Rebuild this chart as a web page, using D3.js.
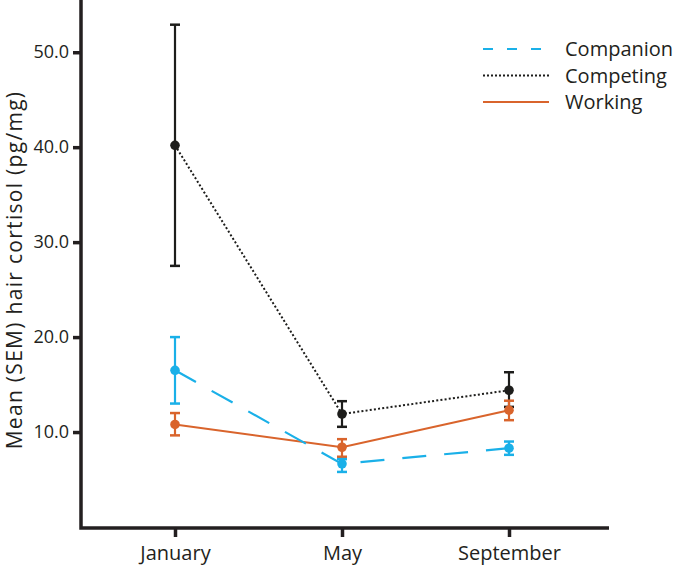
<!DOCTYPE html>
<html><head><meta charset="utf-8">
<script src="https://cdn.jsdelivr.net/npm/d3@7"></script>
<style>body{margin:0;background:#fff}svg{display:block}text{font-family:"Open Sans",sans-serif;fill:#231f20}</style>
</head><body><svg id="c" width="675" height="567"></svg>
<script>
const months = ["January", "May", "September"];
const yTicks = [10, 20, 30, 40, 50];
const companionMean = [16.5, 6.65, 8.3];
const companionLow = [13.0, 5.8, 7.6];
const companionHigh = [20.0, 7.15, 9.0];
const competingMean = [40.2, 11.9, 14.4];
const competingLow = [27.5, 10.55, 12.65];
const competingHigh = [52.9, 13.25, 16.3];
const workingMean = [10.8, 8.4, 12.3];
const workingLow = [9.65, 7.4, 11.25];
const workingHigh = [12.0, 9.25, 13.3];
const seriesNames = ["Companion", "Competing", "Working"];

const series = [
  {name: seriesNames[1], mean: competingMean, low: competingLow, high: competingHigh, color: "#1d1d1b", dash: "2,2.2", legDash: "2,2", width: 2},
  {name: seriesNames[2], mean: workingMean, low: workingLow, high: workingHigh, color: "#d9642c", dash: null, legDash: null, width: 2},
  {name: seriesNames[0], mean: companionMean, low: companionLow, high: companionHigh, color: "#1ab0e8", dash: "24,18", legDash: "10,14", width: 2.2}
];

const svg = d3.select("#c");
const x = d3.scalePoint().domain(months).range([175, 509]);
const y = d3.scaleLinear().domain([0, 55.5]).range([527, 0]);

// axes
const yAxis = svg.append("g").attr("transform", "translate(81,0)")
  .call(d3.axisLeft(y).tickValues(yTicks).tickFormat(d3.format(".1f")).tickSizeOuter(0).tickSize(8).tickPadding(4));
yAxis.select(".domain").remove();
yAxis.selectAll(".tick line").attr("stroke", "#231f20").attr("stroke-width", 3.5);
yAxis.selectAll(".tick text").style("font-size", "18px").attr("fill", "#231f20");

const xAxis = svg.append("g").attr("transform", "translate(0,528)")
  .call(d3.axisBottom(x).tickSizeOuter(0).tickSize(9).tickPadding(9));
xAxis.select(".domain").remove();
xAxis.selectAll(".tick line").attr("stroke", "#231f20").attr("stroke-width", 3.5);
xAxis.selectAll(".tick text").style("font-size", "20px").attr("fill", "#231f20");

svg.append("path").attr("d", "M81,0 V528 H609").attr("fill", "none")
  .attr("stroke", "#231f20").attr("stroke-width", 3.5).attr("stroke-linejoin", "miter");

svg.append("text").attr("transform", "translate(22,270) rotate(-90)")
  .attr("text-anchor", "middle").style("font-size", "21px").style("letter-spacing", "1.3px")
  .text("Mean (SEM) hair cortisol (pg/mg)");

// series
const line = d3.line().x((d, i) => x(months[i])).y(d => y(d));
series.forEach(s => {
  const g = svg.append("g");
  g.append("path").attr("d", line(s.mean)).attr("fill", "none")
    .attr("stroke", s.color).attr("stroke-width", s.width)
    .attr("stroke-dasharray", s.dash);
  months.forEach((m, i) => {
    const cx = x(m);
    g.append("line").attr("x1", cx).attr("x2", cx).attr("y1", y(s.low[i])).attr("y2", y(s.high[i]))
      .attr("stroke", s.color).attr("stroke-width", 2.2);
    [s.low[i], s.high[i]].forEach(v => {
      g.append("line").attr("x1", cx - 5).attr("x2", cx + 5).attr("y1", y(v)).attr("y2", y(v))
        .attr("stroke", s.color).attr("stroke-width", 2.5);
    });
    g.append("circle").attr("cx", cx).attr("cy", y(s.mean[i])).attr("r", 4.8).attr("fill", s.color);
  });
});

// legend
const legendOrder = [series[2], series[0], series[1]];
const lg = svg.append("g");
legendOrder.forEach((s, i) => {
  const yy = 49 + i * 26.5;
  lg.append("line").attr("x1", 483).attr("x2", 549).attr("y1", yy).attr("y2", yy)
    .attr("stroke", s.color).attr("stroke-width", 2).attr("stroke-dasharray", s.legDash);
  lg.append("text").attr("x", 565).attr("y", yy).attr("dy", "0.36em")
    .style("font-size", "20px").text(s.name);
});
</script></body></html>
